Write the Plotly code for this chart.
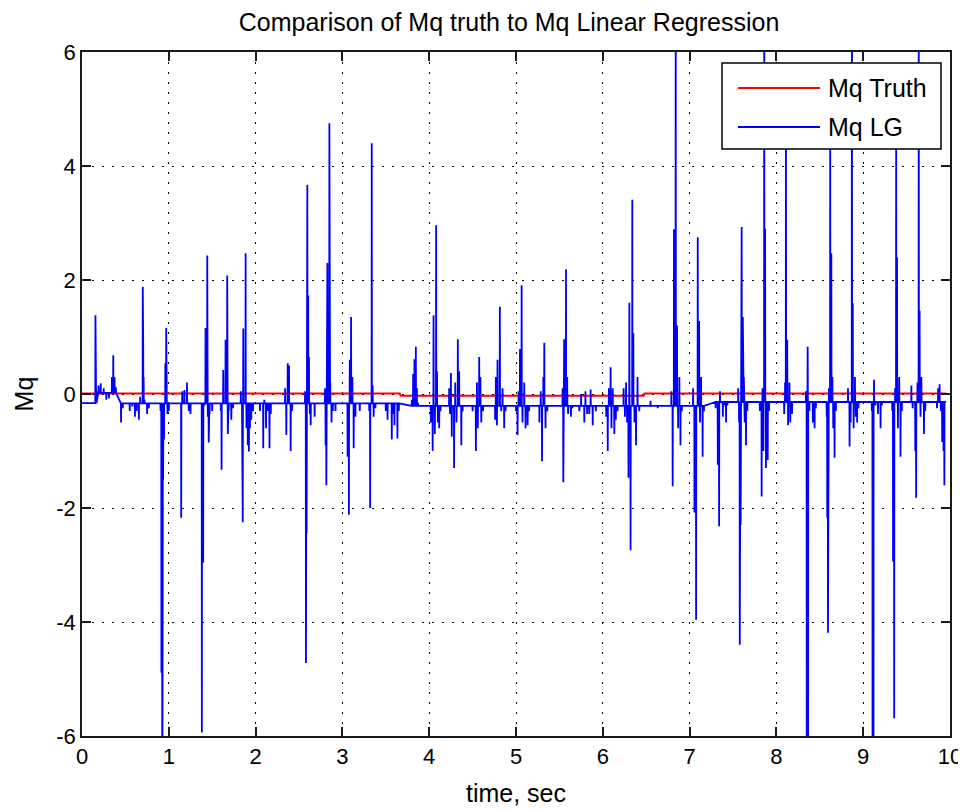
import plotly.graph_objects as go

# ---------------- data ----------------
x_ticks = [0, 1, 2, 3, 4, 5, 6, 7, 8, 9, 10]
x_tick_labels = ["0", "1", "2", "3", "4", "5", "6", "7", "8", "9", "10"]
y_ticks = [-6, -4, -2, 0, 2, 4, 6]
y_tick_labels = ["-6", "-4", "-2", "0", "2", "4", "6"]

series_names = ["Mq Truth", "Mq LG"]
series_colors = ["#ff0000", "#0000ff"]

# Mq truth (nearly constant)
truth_t = [0.0, 3.66, 3.67, 6.47, 6.48, 9.96]
truth_mq = [0.01, 0.01, -0.03, -0.03, 0.01, 0.01]

# Mq LG: quiet baseline level per time segment
base_edges = [0.0, 0.17, 0.42, 3.72, 7.2, 10.0]
base_levels = [-0.16, 0.02, -0.165, -0.21, -0.14]
lg_end_t = 9.955

# Mq LG: spike samples (time, value)
spike_t = [
    0.155, 0.165, 0.19, 0.215, 0.25, 0.28, 0.31, 0.345, 0.36, 0.375, 0.39,
    0.45, 0.47, 0.55, 0.58, 0.61, 0.63, 0.655, 0.67, 0.70, 0.705, 0.71, 0.72, 0.75, 0.77,
    0.905, 0.915, 0.92, 0.925, 0.93, 0.935, 0.945, 0.96, 0.97, 0.975, 0.985, 1.0,
    1.143, 1.155, 1.18, 1.21, 1.23, 1.25,
    1.381, 1.396, 1.41, 1.423, 1.443, 1.45, 1.46, 1.47, 1.50,
    1.60, 1.608, 1.627, 1.654, 1.673, 1.68, 1.69, 1.72, 1.74,
    1.83, 1.845, 1.852, 1.858, 1.885, 1.895, 1.91, 1.923, 1.935, 1.95, 1.97,
    2.05, 2.088, 2.10, 2.12, 2.14, 2.16, 2.175,
    2.34, 2.354, 2.37, 2.385, 2.404, 2.42,
    2.57, 2.58, 2.588, 2.596, 2.606, 2.615, 2.625, 2.635, 2.68,
    2.80, 2.807, 2.815, 2.827, 2.85, 2.86, 2.875, 2.89, 2.92,
    3.06, 3.075, 3.085, 3.10, 3.115, 3.13, 3.15, 3.20,
    3.31, 3.32, 3.338, 3.348, 3.36, 3.38,
    3.50, 3.52, 3.569, 3.58, 3.60, 3.634, 3.65,
    3.80, 3.815, 3.83, 3.846, 3.858, 3.87,
    4.02, 4.04, 4.05, 4.065, 4.08, 4.09, 4.10, 4.115, 4.13,
    4.23, 4.24, 4.25, 4.26, 4.287, 4.30, 4.315, 4.33, 4.345, 4.37, 4.385,
    4.50, 4.538, 4.55, 4.56, 4.576, 4.59, 4.60, 4.62,
    4.76, 4.768, 4.78, 4.787, 4.814, 4.83, 4.845, 4.864, 4.88,
    5.00, 5.018, 5.03, 5.046, 5.065, 5.075, 5.095, 5.11, 5.134, 5.15,
    5.27, 5.285, 5.30, 5.315, 5.326, 5.34, 5.36,
    5.537, 5.545, 5.555, 5.576, 5.59, 5.60, 5.633, 5.65,
    5.73, 5.75, 5.787, 5.80, 5.82, 5.845, 5.86, 5.884, 5.92,
    6.04, 6.057, 6.07, 6.09, 6.10, 6.114, 6.133, 6.15, 6.17,
    6.24, 6.255, 6.268, 6.28, 6.296, 6.306, 6.32, 6.34, 6.352, 6.365, 6.383, 6.40, 6.42,
    6.55, 6.633,
    6.79, 6.805, 6.82, 6.84, 6.855, 6.868, 6.882, 6.895, 6.91,
    7.04, 7.056, 7.075, 7.094, 7.11, 7.12, 7.132, 7.15, 7.165,
    7.30, 7.325, 7.34, 7.35, 7.383, 7.40, 7.42, 7.435,
    7.56, 7.57, 7.578, 7.588, 7.60, 7.613, 7.625, 7.635, 7.65, 7.665,
    7.81, 7.83, 7.84, 7.85, 7.86, 7.87, 7.88, 7.89, 7.90, 7.915,
    8.09, 8.10, 8.11, 8.125, 8.135, 8.15, 8.16, 8.18,
    8.34, 8.35, 8.36, 8.365, 8.38, 8.42, 8.44, 8.455,
    8.58, 8.586, 8.594, 8.605, 8.62, 8.633, 8.645, 8.655, 8.67, 8.685,
    8.825, 8.843, 8.855, 8.87, 8.88, 8.89, 8.905, 8.915, 8.93, 8.945,
    9.10, 9.108, 9.118, 9.125, 9.14, 9.17, 9.20, 9.215,
    9.335, 9.344, 9.357, 9.368, 9.38, 9.39, 9.40, 9.415, 9.43, 9.445,
    9.555, 9.57, 9.60, 9.61, 9.625, 9.64, 9.65, 9.66, 9.67, 9.70, 9.715,
    9.85, 9.863, 9.88, 9.895, 9.91, 9.925, 9.935, 9.945,
]
spike_mq = [
    1.38, 0.05, 0.15, 0.19, 0.10, -0.10, -0.08, 0.30, 0.68, 0.30, 0.12,
    -0.50, -0.25, -0.30, -0.22, -0.40, -0.30, -0.45, -0.05, 1.88, 0.89, 0.30, -0.10, -0.35, -0.25,
    -0.30, -4.89, -3.00, -8.00, -3.00, -1.50, -0.80, 0.54, 1.16, 0.30, -0.35, -0.30,
    -2.17, 0.05, 0.07, 0.20, -0.30, -0.35,
    -5.94, -2.96, -0.20, 1.16, 2.43, -0.40, -0.85, -0.35, -0.30,
    -0.30, -1.33, 0.42, 0.95, 2.08, -0.70, -0.30, -0.45, -0.25,
    0.05, -1.18, -2.25, 1.15, 2.47, -0.60, -0.90, -1.01, -0.60, -0.45, -0.30,
    -0.30, -0.95, -0.10, -0.60, -0.30, -0.95, -0.35,
    0.10, -0.72, 0.54, 0.50, -1.00, -0.30,
    0.05, -4.72, -2.44, 3.67, 1.73, 0.65, -0.35, -0.55, -0.40,
    0.10, -0.90, -1.60, 2.30, 4.75, 0.20, -0.50, -0.30, -0.30,
    -1.10, -2.12, 0.60, 1.35, 0.30, -0.95, -0.40, -0.30,
    -0.30, -2.00, 4.40, 0.15, -0.40, -0.25,
    -0.30, -0.45, -0.80, -0.35, -0.55, -0.78, -0.30,
    -0.10, 0.35, 0.61, 0.83, 0.10, -0.15,
    -0.50, -1.00, 1.38, -0.70, 2.96, 0.40, -0.50, -0.60, -0.30,
    0.10, -0.35, 0.37, -0.75, -1.30, 0.20, -0.50, 0.96, 0.40, -0.90, -0.30,
    -0.30, -1.00, 0.20, -0.60, 0.65, 0.30, -0.50, -0.30,
    -0.45, 0.30, -0.55, 0.60, 1.53, -0.30, 0.10, -0.60, -0.30,
    -0.30, -0.72, 0.05, 0.79, 1.91, -0.50, 0.20, -0.60, -0.55, -0.30,
    -0.50, 0.05, -1.18, 0.30, 0.90, -0.60, -0.30,
    0.10, -1.55, 0.96, 2.19, 0.30, -0.35, -0.40, -0.25,
    -0.30, 0.00, -0.50, 0.05, -0.35, -0.35, 0.08, -0.55, -0.30,
    -0.40, -1.00, 0.10, 0.47, -0.60, 0.10, -0.70, -0.45, -0.30,
    0.10, -0.40, 0.20, -0.50, -1.47, 1.60, -2.74, 3.41, 1.07, -0.50, -0.90, 0.30, -0.30,
    -0.12, -0.25,
    0.05, -1.62, 2.89, 8.00, 1.20, -0.60, 0.30, -0.90, -0.30,
    0.10, -2.08, -3.96, 2.75, 1.28, -0.50, 0.30, -1.10, -0.30,
    -0.25, -1.24, -2.32, 0.05, -0.40, -0.20, -0.50, -0.20,
    0.10, -0.50, -4.40, -2.30, 2.93, 1.35, 0.30, -0.50, -0.90, -0.30,
    -0.30, -1.80, 0.10, -1.00, 8.00, 2.90, -1.30, -0.60, -1.16, -0.30,
    -0.35, 0.20, 5.20, 0.95, -0.55, 0.20, -0.50, -0.35,
    0.05, -8.00, 0.83, -8.00, -0.30, -0.50, -0.60, -0.25,
    -0.40, -2.17, -4.19, 0.10, 5.00, 2.47, 0.30, -0.60, -1.12, -0.30,
    0.10, -0.92, -0.50, 8.00, 1.59, -0.60, 0.30, -0.40, -0.50, -0.25,
    -0.30, -8.00, -8.00, 0.25, -0.20, -0.35, -0.60, -0.20,
    -0.30, -2.94, -5.69, 0.10, 4.80, 2.40, -0.60, 0.30, -1.10, -0.30,
    0.15, -0.25, -1.00, -1.82, 0.20, 8.00, 1.46, -0.40, 0.30, -0.70, -0.30,
    -0.25, 0.10, 0.17, -0.30, -0.84, -1.00, -1.60, -0.15,
]


def base_at(t):
    for i, lvl in enumerate(base_levels):
        if base_edges[i] <= t < base_edges[i + 1]:
            return lvl
    return base_levels[-1]


# assemble the LG line: baseline between spike samples
lg_t = [0.0]
lg_mq = [base_at(0.0)]
for t, v in zip(spike_t, spike_mq):
    b = base_at(t)
    lg_t += [t - 0.002, t, t + 0.002]
    lg_mq += [b, v, b]
lg_t.append(lg_end_t)
lg_mq.append(base_at(lg_end_t))

FONT = "Liberation Sans, Arial, Helvetica, sans-serif"
INK = "#1a1a1a"

# page has an 8px body margin; figure is sized so the plot area lands at
# page x 82..950, y 52..736
W, H = 958, 802
ML, MR, MT, MB = 74, 16, 44, 74

fig = go.Figure()
fig.add_trace(go.Scatter(
    x=truth_t, y=truth_mq, mode="lines", name=series_names[0],
    line=dict(color=series_colors[0], width=2), showlegend=False,
))
fig.add_trace(go.Scatter(
    x=lg_t, y=lg_mq, mode="lines", name=series_names[1],
    line=dict(color=series_colors[1], width=1.8), showlegend=False,
))

axis_common = dict(
    showline=True, linecolor=INK, linewidth=1.5, mirror="ticks",
    ticks="inside", ticklen=9, tickwidth=1.5, tickcolor=INK,
    showgrid=True, gridcolor="#000000", gridwidth=1, griddash="2px,8px",
    zeroline=False,
    tickfont=dict(family=FONT, size=22, color="#000000"),
)

fig.update_xaxes(
    range=[0, 10], tickvals=x_ticks, ticktext=x_tick_labels,
    title=dict(text="time, sec", font=dict(family=FONT, size=25, color="#000000"), standoff=16),
    **axis_common,
)
fig.update_yaxes(
    range=[-6, 6], tickvals=y_ticks, ticktext=y_tick_labels,
    title=dict(text="Mq", font=dict(family=FONT, size=25, color="#000000"), standoff=16),
    **axis_common,
)

# custom MATLAB-style legend box (paper coordinates of the plot area)
pw, ph = W - ML - MR, H - MT - MB


def px_to_paper(xp, yp):
    # xp, yp are page pixels (page = figure + 8px margin)
    return (xp - 8 - ML) / pw, 1 - (yp - 8 - MT) / ph


lx0, ly0 = px_to_paper(722, 63)
lx1, ly1 = px_to_paper(941, 149)
shapes = [dict(type="rect", xref="paper", yref="paper", x0=lx0, x1=lx1, y0=ly1, y1=ly0,
               fillcolor="white", line=dict(color="#000000", width=1.5), layer="above")]
annotations = []
row_y = [88, 127]
for name, col, ry in zip(series_names, series_colors, row_y):
    sx0, sy = px_to_paper(738, ry)
    sx1, _ = px_to_paper(820, ry)
    tx, _ = px_to_paper(826, ry)
    shapes.append(dict(type="line", xref="paper", yref="paper", x0=sx0, x1=sx1, y0=sy, y1=sy,
                       line=dict(color=col, width=2), layer="above"))
    annotations.append(dict(xref="paper", yref="paper", x=tx, y=sy, text=name, showarrow=False,
                            xanchor="left", yanchor="middle",
                            font=dict(family=FONT, size=25, color="#000000")))

fig.update_layout(
    width=W, height=H,
    margin=dict(l=ML, r=MR, t=MT, b=MB, autoexpand=False),
    paper_bgcolor="white", plot_bgcolor="white",
    title=dict(
        text="Comparison of Mq truth to Mq Linear Regression",
        font=dict(family=FONT, size=25, color="#000000"),
        x=0.492, xref="paper", xanchor="center",
        y=1 - 14 / H, yref="container", yanchor="middle",
    ),
    shapes=shapes,
    annotations=annotations,
    showlegend=False,
)

fig.write_html("out.html")
